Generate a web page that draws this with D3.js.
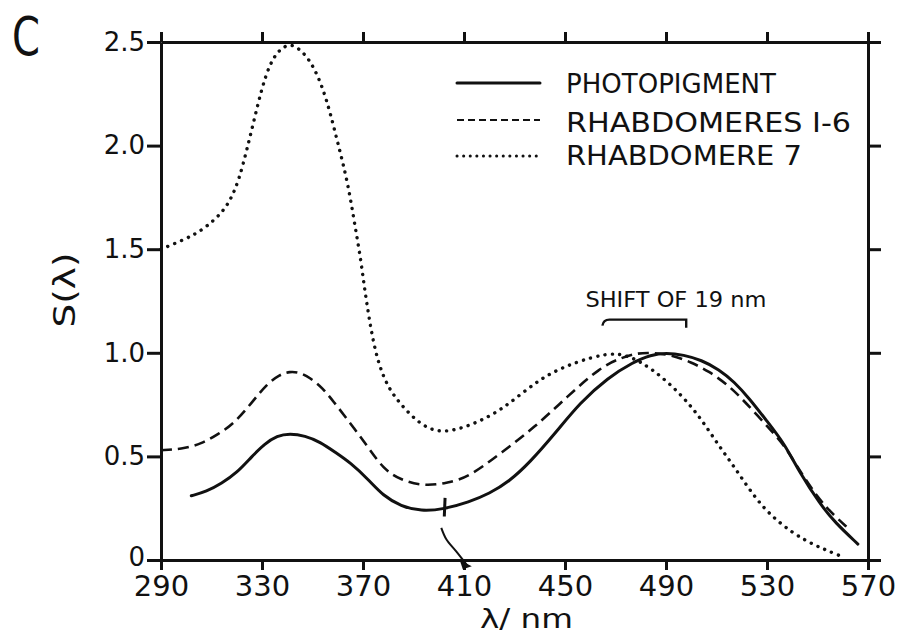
<!DOCTYPE html>
<html>
<head>
<meta charset="utf-8">
<script src="https://cdn.jsdelivr.net/npm/d3@7"></script>
<style>
  html, body { margin: 0; padding: 0; background: #fff; }
  svg { display: block; }
  text { font-family: "DejaVu Sans", sans-serif; fill: #111; }
</style>
</head>
<body>
<div id="chart"></div>
<script>
// ---------- data ----------
const xTicks = [290, 330, 370, 410, 450, 490, 530, 570];
const yTicks = [0, 0.5, 1.0, 1.5, 2.0, 2.5];
const yTickLabels = ["0", "0.5", "1.0", "1.5", "2.0", "2.5"];

const seriesNames = ["PHOTOPIGMENT", "RHABDOMERES I-6", "RHABDOMERE 7"];

// photopigment (solid)
const photoWl = [302, 308, 314, 320, 326, 331, 336, 341, 347, 353, 359, 365, 372, 378, 385, 393, 402, 412, 420, 428, 436, 446, 456, 467, 477, 484, 490, 497, 504, 511, 517, 523, 530, 537, 543, 551, 557, 566];
const photoS  = [0.31, 0.33, 0.37, 0.42, 0.50, 0.56, 0.60, 0.61, 0.60, 0.57, 0.52, 0.47, 0.39, 0.31, 0.26, 0.235, 0.245, 0.28, 0.32, 0.38, 0.47, 0.61, 0.76, 0.88, 0.955, 0.99, 1.0, 0.99, 0.965, 0.92, 0.86, 0.78, 0.67, 0.56, 0.42, 0.27, 0.18, 0.077];

// rhabdomeres 1-6 (dashed)
const r16Wl = [290, 298, 306, 313, 319, 326, 332, 337, 341, 345, 349, 354, 358, 365, 372, 378, 385, 394, 403, 412, 425, 438, 451, 464, 472, 479, 485, 492, 500, 507, 514, 520, 526, 532, 537, 542, 550, 557, 562];
const r16S  = [0.53, 0.535, 0.56, 0.61, 0.66, 0.76, 0.85, 0.895, 0.91, 0.905, 0.88, 0.83, 0.77, 0.66, 0.545, 0.44, 0.385, 0.357, 0.37, 0.40, 0.52, 0.64, 0.79, 0.93, 0.975, 1.0, 1.0, 0.99, 0.955, 0.91, 0.85, 0.78, 0.70, 0.62, 0.55, 0.45, 0.30, 0.21, 0.155];

// rhabdomere 7 (dotted)
const r7Wl = [290, 300, 306, 311, 315, 318, 321, 324, 327, 330, 333, 336, 339, 342, 346.5, 350.5, 354, 357, 360.5, 364, 367, 369, 370.5, 372, 373.5, 376, 380, 385, 392, 400, 411, 425, 440, 454, 467, 475, 485, 496, 504, 511, 517, 523, 530, 540, 549, 556, 560];
const r7S  = [1.50, 1.55, 1.59, 1.64, 1.69, 1.75, 1.84, 1.98, 2.13, 2.28, 2.39, 2.45, 2.48, 2.49, 2.45, 2.38, 2.28, 2.16, 1.99, 1.82, 1.60, 1.46, 1.32, 1.20, 1.09, 0.95, 0.83, 0.75, 0.66, 0.61, 0.64, 0.72, 0.88, 0.955, 1.0, 0.99, 0.92, 0.80, 0.68, 0.55, 0.45, 0.34, 0.23, 0.13, 0.07, 0.035, 0.015];

// annotation: "shift of 19 nm" bracket (wavelengths) and level
const shiftLabel = "SHIFT OF 19 nm";
const shiftRange = [466, 498];
const shiftLevel = 1.16;

// hand-drawn arrow pointing to the axis near 410 nm
const arrowStroke = [[402.5, 0.30], [402.2, 0.21]];
const arrowCurve  = [[401, 0.155], [403, 0.10], [407, 0.04], [411.5, -0.03]];

// ---------- layout ----------
const W = 900, H = 637;
const L = 161, R = 868, T = 42, B = 560;

const svg = d3.select("#chart").append("svg")
  .attr("width", W).attr("height", H);
svg.append("rect").attr("width", W).attr("height", H).attr("fill", "#fff");

const x = d3.scaleLinear().domain([290, 570]).range([L, R]);
const y = d3.scaleLinear().domain([0, 2.5]).range([B, T]);

// ---------- axes ----------
function styleAxis(g) {
  g.select(".domain").attr("stroke", "#111").attr("stroke-width", 3);
  g.selectAll(".tick line").attr("stroke", "#111").attr("stroke-width", 3);
}

const gBottom = svg.append("g").attr("transform", `translate(0,${B})`)
  .call(d3.axisBottom(x).tickValues(xTicks).tickSize(10).tickSizeOuter(0).tickPadding(5).tickFormat(d3.format("d")));
styleAxis(gBottom);
gBottom.selectAll("text").attr("font-size", 29).attr("font-family", "DejaVu Sans").attr("fill", "#111");

const gTop = svg.append("g").attr("transform", `translate(0,${T})`)
  .call(d3.axisTop(x).tickValues(xTicks).tickSize(10).tickSizeOuter(0).tickFormat(""));
styleAxis(gTop);

const gLeft = svg.append("g").attr("transform", `translate(${L},0)`)
  .call(d3.axisLeft(y).tickValues(yTicks).tickSize(14).tickSizeOuter(0).tickPadding(2)
    .tickFormat((d, i) => yTickLabels[i]));
styleAxis(gLeft);
gLeft.selectAll("text").attr("font-size", 26).attr("font-family", "DejaVu Sans").attr("fill", "#111");
gLeft.selectAll(".tick").filter(d => d === 0).select("text").attr("dy", "0.2em");

const gRight = svg.append("g").attr("transform", `translate(${R},0)`)
  .call(d3.axisRight(y).tickValues(yTicks).tickSize(13).tickSizeOuter(0).tickFormat(""));
styleAxis(gRight);

// ---------- curves ----------
const line = d3.line().x(d => x(d[0])).y(d => y(d[1])).curve(d3.curveBasis);

const series = [
  { name: seriesNames[0], pts: d3.zip(photoWl, photoS), width: 3, dash: null, cap: "round" },
  { name: seriesNames[1], pts: d3.zip(r16Wl, r16S), width: 2.6, dash: "11 6", cap: "butt" },
  { name: seriesNames[2], pts: d3.zip(r7Wl, r7S), width: 3.4, dash: "0.1 7.3", cap: "round" }
];

svg.append("g").selectAll("path").data(series).join("path")
  .attr("d", d => line(d.pts))
  .attr("fill", "none")
  .attr("stroke", "#111")
  .attr("stroke-width", d => d.width)
  .attr("stroke-linecap", d => d.cap)
  .attr("stroke-dasharray", d => d.dash);

// ---------- legend ----------
const legendY = [83, 120, 156];
const legendTextY = [93, 132, 165];
const legendLen = [210, 285, 236];
const lg = svg.append("g");
series.forEach((s, i) => {
  lg.append("line")
    .attr("x1", 457).attr("x2", 540)
    .attr("y1", legendY[i]).attr("y2", legendY[i])
    .attr("stroke", "#111").attr("stroke-width", s.width === 3 ? 3 : (s.dash === "11 6" ? 2.2 : 3))
    .attr("stroke-linecap", s.cap)
    .attr("stroke-dasharray", s.dash === "11 6" ? "7 4" : (s.dash ? "0.1 6.5" : null));
  lg.append("text")
    .attr("x", 566).attr("y", legendTextY[i])
    .attr("font-size", 27)
    .attr("textLength", legendLen[i]).attr("lengthAdjust", "spacingAndGlyphs")
    .text(s.name);
});

// ---------- shift annotation ----------
const bx0 = x(shiftRange[0]), bx1 = x(shiftRange[1]), by = y(shiftLevel);
svg.append("path")
  .attr("d", `M${bx0 - 3},${by + 6} Q${bx0 - 2},${by} ${bx0 + 4},${by} L${bx1},${by} L${bx1},${by + 8}`)
  .attr("fill", "none").attr("stroke", "#111").attr("stroke-width", 2.4);
svg.append("text")
  .attr("x", bx0 - 20).attr("y", by - 13)
  .attr("font-size", 22)
  .attr("textLength", 181).attr("lengthAdjust", "spacingAndGlyphs")
  .text(shiftLabel);

// ---------- hand-drawn arrow ----------
const plain = d3.line().x(d => x(d[0])).y(d => y(d[1]));
const smooth = d3.line().x(d => x(d[0])).y(d => y(d[1])).curve(d3.curveCatmullRom);
svg.append("path").attr("d", plain(arrowStroke))
  .attr("fill", "none").attr("stroke", "#111").attr("stroke-width", 3);
svg.append("path").attr("d", smooth(arrowCurve))
  .attr("fill", "none").attr("stroke", "#111").attr("stroke-width", 2);
{
  const a = arrowCurve[arrowCurve.length - 1];
  const ax = x(a[0]), ay = y(a[1]);
  svg.append("path")
    .attr("d", `M${ax + 4},${ay} L${ax - 8},${ay - 6} L${ax - 5},${ay + 3} Z`)
    .attr("fill", "#111");
}

// ---------- titles ----------
svg.append("text")
  .attr("x", 12).attr("y", 55)
  .attr("font-size", 54)
  .attr("textLength", 28).attr("lengthAdjust", "spacingAndGlyphs")
  .text("C");

svg.append("text")
  .attr("transform", "translate(75,290) rotate(-90)")
  .attr("text-anchor", "middle")
  .attr("font-size", 30)
  .attr("textLength", 75).attr("lengthAdjust", "spacingAndGlyphs")
  .text("S(λ)");

svg.append("text")
  .attr("x", 480).attr("y", 628)
  .attr("font-size", 27)
  .attr("textLength", 93).attr("lengthAdjust", "spacingAndGlyphs")
  .text("λ/ nm");
</script>
</body>
</html>
